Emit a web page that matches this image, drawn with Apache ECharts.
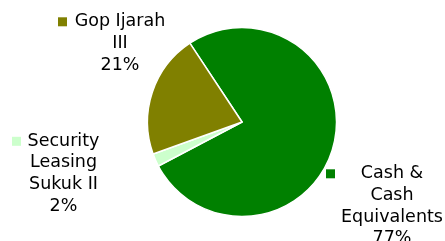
<!DOCTYPE html>
<html>
<head>
<meta charset="utf-8">
<script src="https://cdn.jsdelivr.net/npm/echarts@6/dist/echarts.min.js"></script>
<style>
  html, body { margin: 0; padding: 0; background: #fff; }
  #chart { width: 445px; height: 241px; }
</style>
</head>
<body>
<div id="chart"></div>
<script>
// 数据：按顺时针顺序
const categories = ['Cash & Cash Equivalents', 'Security Leasing Sukuk II', 'Gop Ijarah III'];
const shares = [76.6, 2.2, 21.2];
const sliceColors = ['#008000', '#ccffcc', '#808000'];
// 标签换行文本
const labelLines = [
  ['Cash &', 'Cash', 'Equivalents'],
  ['Security', 'Leasing', 'Sukuk II'],
  ['Gop Ijarah', 'III']
];

// 标签位置和宽度（样式）
const labelPos = [[326, 163], [12, 130.5], [58, 11]];
const labelWidth = [102, 73, 94];

const chart = echarts.init(document.getElementById('chart'));

const pieData = categories.map((name, i) => ({
  name: name,
  value: shares[i],
  itemStyle: { color: sliceColors[i] },
  label: {
    rich: {
      sq: { width: 9, height: 9, backgroundColor: sliceColors[i] },
      no: { width: 9, height: 9 },
      sp: { width: 6 },
      t: {
        width: labelWidth[i],
        align: 'center',
        fontFamily: 'DejaVu Sans',
        fontSize: 17.5,
        lineHeight: 21.6,
        color: '#000'
      }
    }
  }
}));

chart.setOption({
  animation: false,
  series: [{
    type: 'pie',
    center: [242, 122],
    radius: 94.5,
    startAngle: 123.5,
    clockwise: true,
    avoidLabelOverlap: false,
    itemStyle: { borderColor: '#fff', borderWidth: 1.5 },
    label: {
      show: true,
      position: 'outside',
      lineHeight: 21.6,
      formatter: (p) => {
        const lines = labelLines[p.dataIndex].concat([Math.round(p.percent) + '%']);
        return lines.map((l, k) => (k === 0 ? '{sq|}' : '{no|}') + '{sp|}{t|' + l + '}').join('\n');
      }
    },
    labelLine: { show: false },
    labelLayout: (params) => ({
      x: labelPos[params.dataIndex][0],
      y: labelPos[params.dataIndex][1],
      align: 'left',
      verticalAlign: 'top'
    }),
    data: pieData
  }]
});
</script>
</body>
</html>
